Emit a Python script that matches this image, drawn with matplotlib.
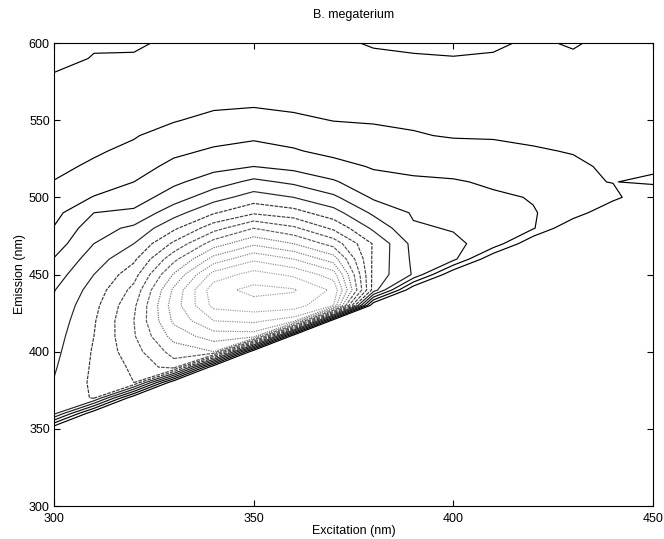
import numpy as np
import matplotlib
matplotlib.use("Agg")
import matplotlib.pyplot as plt

plt.rcParams['font.family'] = ['Liberation Sans', 'DejaVu Sans']

# Excitation wavelengths (nm) of the measured spectra
excitation = [300, 310, 320, 330, 340, 350, 360, 370, 380, 390, 400, 410, 420, 430, 440, 450]
# Emission wavelengths (nm) of each spectrum
emission = [340, 350, 360, 370, 380, 390, 400, 410, 420, 430, 440, 450, 460, 470,
            480, 490, 500, 510, 520, 530, 540, 550, 560, 570, 580, 590, 600]

# Fluorescence intensity (contour-level units) per excitation, emission 340..600 nm
# (zeros = masked scatter region below the cutoff)
ex300 = [0, 0, 5.3, 5.2, 5.05, 4.9, 4.75, 4.6, 4.4, 4.2, 3.95, 3.5, 3.05, 2.5, 2.05, 1.7,
         1.35, 1.02, 0.85, 0.75, 0.7, 0.7, 0.7, 0.8, 0.97, 1.3, 1.5]
ex310 = [0, 0, 0, 6.1, 6.2, 6.15, 6.1, 6.0, 5.9, 5.7, 5.4, 5.0, 4.5, 4.0, 3.6, 3.0,
         2.05, 1.5, 1.1, 0.92, 0.8, 0.7, 0.7, 0.75, 0.85, 0.95, 1.1]
ex320 = [0, 0, 0, 0, 7.0, 7.2, 7.6, 7.9, 8.0, 7.8, 7.3, 6.6, 5.8, 5.0, 4.2, 3.2,
         2.5, 2.0, 1.5, 1.15, 0.95, 0.8, 0.7, 0.7, 0.75, 0.9, 1.15]
ex330 = [0, 0, 0, 0, 0, 8.5, 9.4, 10.4, 11.2, 11.5, 11.2, 10.1, 8.7, 7.2, 5.8, 4.6,
         3.5, 2.8, 2.3, 1.75, 1.3, 0.95, 0.8, 0.7, 0.7, 0.75, 0.8]
ex340 = [0, 0, 0, 0, 0, 0, 10.0, 11.5, 13.0, 14.3, 14.6, 13.4, 11.4, 9.5, 7.6, 5.9,
         4.6, 3.5, 2.7, 2.15, 1.6, 1.2, 0.88, 0.75, 0.7, 0.7, 0.85]
ex350 = [0, 0, 0, 0, 0, 0, 0, 11.5, 13.2, 14.6, 15.3, 14.4, 12.8, 10.8, 9.0, 6.85,
         5.45, 4.25, 3.0, 2.4, 1.8, 1.33, 0.93, 0.8, 0.7, 0.6, 0.7]
ex360 = [0, 0, 0, 0, 0, 0, 0, 0, 12.5, 14.5, 15.1, 13.8, 12.0, 10.0, 8.2, 6.4,
         5.0, 3.8, 2.7, 2.1, 1.6, 1.15, 0.85, 0.7, 0.6, 0.55, 0.6]
ex370 = [0, 0, 0, 0, 0, 0, 0, 0, 0, 13.0, 13.8, 12.5, 10.5, 8.6, 6.8, 5.4,
         4.2, 3.1, 2.4, 1.7, 1.3, 0.98, 0.85, 0.7, 0.6, 0.6, 0.8]
ex380 = [0, 0, 0, 0, 0, 0, 0, 0, 0, 0, 5.6, 5.7, 5.8, 5.9, 4.8, 3.8,
         2.85, 2.4, 1.9, 1.45, 1.15, 0.95, 0.85, 0.75, 0.7, 0.8, 1.1]
ex390 = [0, 0, 0, 0, 0, 0, 0, 0, 0, 0, 0, 3.9, 3.8, 3.7, 3.1, 2.9,
         2.6, 2.2, 1.7, 1.3, 1.05, 0.9, 0.8, 0.7, 0.7, 0.9, 1.2]
ex400 = [0, 0, 0, 0, 0, 0, 0, 0, 0, 0, 0, 0, 3.3, 3.15, 2.95, 2.7,
         2.4, 2.1, 1.6, 1.25, 0.95, 0.85, 0.75, 0.7, 0.75, 0.95, 1.3]
ex410 = [0, 0, 0, 0, 0, 0, 0, 0, 0, 0, 0, 0, 0, 2.7, 2.55, 2.35,
         2.15, 1.85, 1.4, 1.15, 0.95, 0.8, 0.75, 0.7, 0.75, 0.9, 1.15]
ex420 = [0, 0, 0, 0, 0, 0, 0, 0, 0, 0, 0, 0, 0, 0, 2.1, 2.05,
         1.95, 1.6, 1.3, 1.05, 0.9, 0.8, 0.75, 0.7, 0.7, 0.75, 0.85]
ex430 = [0, 0, 0, 0, 0, 0, 0, 0, 0, 0, 0, 0, 0, 0, 0, 1.6,
         1.2, 1.15, 1.1, 0.97, 0.88, 0.8, 0.75, 0.7, 0.7, 0.85, 1.1]
ex440 = [0, 0, 0, 0, 0, 0, 0, 0, 0, 0, 0, 0, 0, 0, 0, 0,
         1.3, 0.97, 0.9, 0.85, 0.8, 0.75, 0.7, 0.65, 0.7, 0.8, 0.7]
ex450 = [0, 0, 0, 0, 0, 0, 0, 0, 0, 0, 0, 0, 0, 0, 0, 0,
         0, 1.2, 0.8, 0.8, 0.78, 0.75, 0.7, 0.65, 0.65, 0.7, 0.6]

contour_levels = [1, 2, 3, 4, 5, 6, 7, 8, 9, 10, 11, 12, 13, 14, 15]

x_ticks = [300, 350, 400, 450]
y_ticks = [300, 350, 400, 450, 500, 550, 600]

Z = np.column_stack([ex300, ex310, ex320, ex330, ex340, ex350, ex360, ex370,
                     ex380, ex390, ex400, ex410, ex420, ex430, ex440, ex450])

fig = plt.figure(figsize=(6.64, 5.39), dpi=100)
ax = fig.add_axes([0.0813, 0.0612, 0.9021, 0.8590])

n = len(contour_levels)
cols = [plt.cm.gray(min(0.62, 0.62 * max(0, i - 1) / (n - 3))) for i in range(n)]
styles = []
for i in range(n):
    if i < 5:
        styles.append('solid')
    elif i < 9:
        styles.append((0, (3, 1)))
    else:
        styles.append((0, (1, 1)))
ax.contour(excitation, emission, Z, levels=contour_levels, colors=cols,
           linewidths=0.85, linestyles=styles)

ax.set_xlim(300, 450)
ax.set_ylim(300, 600)
ax.set_xticks(x_ticks)
ax.set_yticks(y_ticks)
ax.tick_params(direction='in', length=4, width=0.8, top=True, right=True,
               labelsize=9)
ax.tick_params(axis='x', pad=5)
ax.tick_params(axis='y', pad=3)
for s in ax.spines.values():
    s.set_linewidth(0.8)
ax.set_xlabel('Excitation (nm)', fontsize=9, labelpad=0)
ax.set_ylabel('Emission (nm)', fontsize=9, labelpad=2)
ax.set_title('B. megaterium', fontsize=9, pad=18)

fig.savefig('out.png', dpi=100)
